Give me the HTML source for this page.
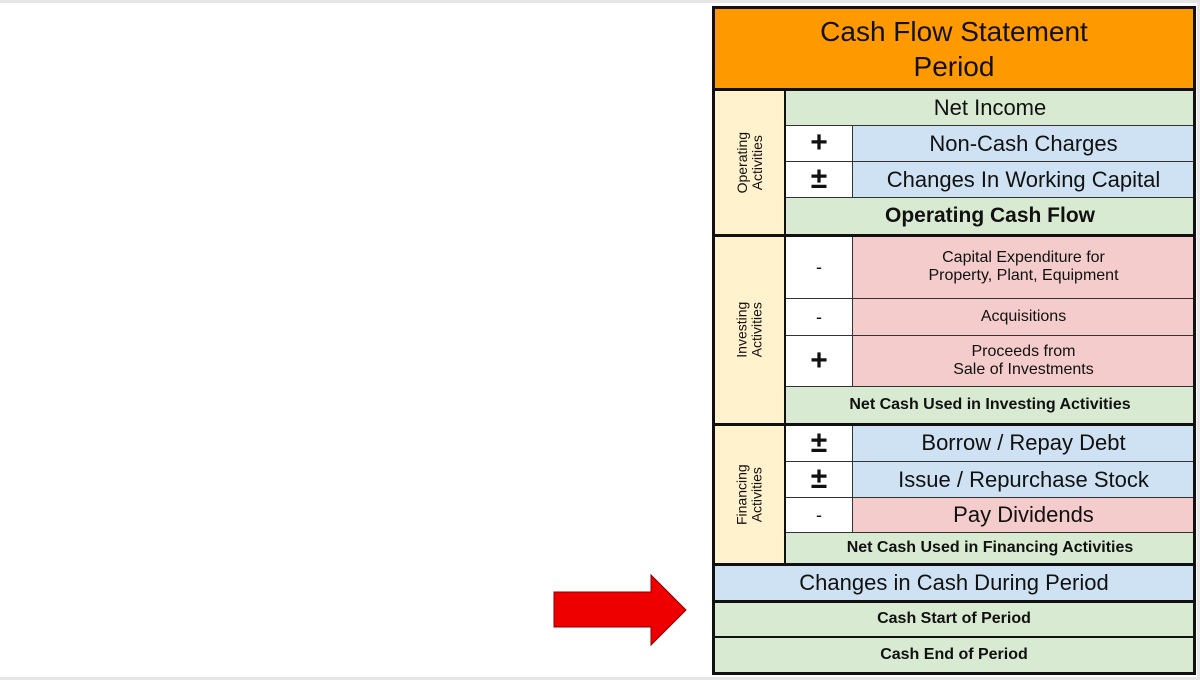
<!DOCTYPE html>
<html><head><meta charset="utf-8"><style>
body{margin:0;width:1200px;height:680px;background:#fff;position:relative;overflow:hidden;font-family:"Liberation Sans",Arial,sans-serif;}
.c{position:absolute;box-sizing:border-box;border:1px solid #333;display:flex;align-items:center;justify-content:center;text-align:center;color:#111;line-height:1.15;}
.g{background:#d9ead3}.b{background:#cfe2f3}.p{background:#f4cccc}.y{background:#fff2cc}.w{background:#fff}
.l{position:absolute;background:#111;}
.v{transform:rotate(-90deg);font-size:14px;line-height:1.05;white-space:nowrap;}
.s{font-size:30px;font-weight:bold;}
</style></head><body>
<div style="position:absolute;left:0;top:0;width:1200px;height:3px;background:#e6e6e6"></div>
<div style="position:absolute;left:0;top:677px;width:1200px;height:3px;background:#e6e6e6"></div>
<div style="position:absolute;left:1197px;top:0;width:3px;height:680px;background:#e6e6e6"></div>

<div class="c" style="left:713px;top:7px;width:482px;height:83px;background:#ff9900;font-size:28px;line-height:1.25">Cash Flow Statement<br>Period</div>

<div class="c y" style="left:713px;top:89px;width:73px;height:147px"><div class="v">Operating<br>Activities</div></div>
<div class="c g" style="left:785px;top:89px;width:410px;height:37px;font-size:22px">Net Income</div>
<div class="c w s" style="left:785px;top:125px;width:68px;height:37px">+</div>
<div class="c b" style="left:852px;top:125px;width:343px;height:37px;font-size:22px">Non-Cash Charges</div>
<div class="c w s" style="left:785px;top:161px;width:68px;height:37px">±</div>
<div class="c b" style="left:852px;top:161px;width:343px;height:37px;font-size:22px">Changes In Working Capital</div>
<div class="c g" style="left:785px;top:197px;width:410px;height:39px;font-size:21px;font-weight:bold">Operating Cash Flow</div>

<div class="c y" style="left:713px;top:235px;width:73px;height:190px"><div class="v">Investing<br>Activities</div></div>
<div class="c w" style="left:785px;top:235px;width:68px;height:64px;font-size:18px">-</div>
<div class="c p" style="left:852px;top:235px;width:343px;height:64px;font-size:16px">Capital Expenditure for<br>Property, Plant, Equipment</div>
<div class="c w" style="left:785px;top:298px;width:68px;height:38px;font-size:18px">-</div>
<div class="c p" style="left:852px;top:298px;width:343px;height:38px;font-size:16px">Acquisitions</div>
<div class="c w s" style="left:785px;top:335px;width:68px;height:52px">+</div>
<div class="c p" style="left:852px;top:335px;width:343px;height:52px;font-size:16px">Proceeds from<br>Sale of Investments</div>
<div class="c g" style="left:785px;top:386px;width:410px;height:39px;font-size:16px;font-weight:bold">Net Cash Used in Investing Activities</div>

<div class="c y" style="left:713px;top:424px;width:73px;height:141px"><div class="v">Financing<br>Activities</div></div>
<div class="c w s" style="left:785px;top:424px;width:68px;height:38px">±</div>
<div class="c b" style="left:852px;top:424px;width:343px;height:38px;font-size:22px">Borrow / Repay Debt</div>
<div class="c w s" style="left:785px;top:461px;width:68px;height:37px">±</div>
<div class="c b" style="left:852px;top:461px;width:343px;height:37px;font-size:22px">Issue / Repurchase Stock</div>
<div class="c w" style="left:785px;top:497px;width:68px;height:36px;font-size:18px">-</div>
<div class="c p" style="left:852px;top:497px;width:343px;height:36px;font-size:22px">Pay Dividends</div>
<div class="c g" style="left:785px;top:532px;width:410px;height:33px;font-size:16px;font-weight:bold">Net Cash Used in Financing Activities</div>

<div class="c b" style="left:713px;top:564px;width:482px;height:38px;font-size:22px">Changes in Cash During Period</div>
<div class="c g" style="left:713px;top:601px;width:482px;height:37px;font-size:16px;font-weight:bold">Cash Start of Period</div>
<div class="c g" style="left:713px;top:637px;width:482px;height:37px;font-size:16px;font-weight:bold">Cash End of Period</div>

<!-- thick lines -->
<div class="l" style="left:712px;top:6px;width:3px;height:668px"></div>
<div class="l" style="left:1193px;top:6px;width:3px;height:668px"></div>
<div class="l" style="left:712px;top:6px;width:484px;height:3px"></div>
<div class="l" style="left:712px;top:672px;width:484px;height:3px"></div>
<div class="l" style="left:712px;top:88px;width:484px;height:3px"></div>
<div class="l" style="left:712px;top:234px;width:484px;height:3px"></div>
<div class="l" style="left:712px;top:423px;width:484px;height:3px"></div>
<div class="l" style="left:712px;top:563px;width:484px;height:3px"></div>
<div class="l" style="left:712px;top:600px;width:484px;height:3px"></div>
<div class="l" style="left:712px;top:636px;width:484px;height:2px"></div>
<div class="l" style="left:784px;top:88px;width:2px;height:477px"></div>

<svg style="position:absolute;left:550px;top:570px" width="140" height="80">
<polygon points="4,22 101,22 101,5 136,40 101,75 101,57 4,57" fill="#ee0000" stroke="#8a0000" stroke-width="1"/>
</svg>
</body></html>
